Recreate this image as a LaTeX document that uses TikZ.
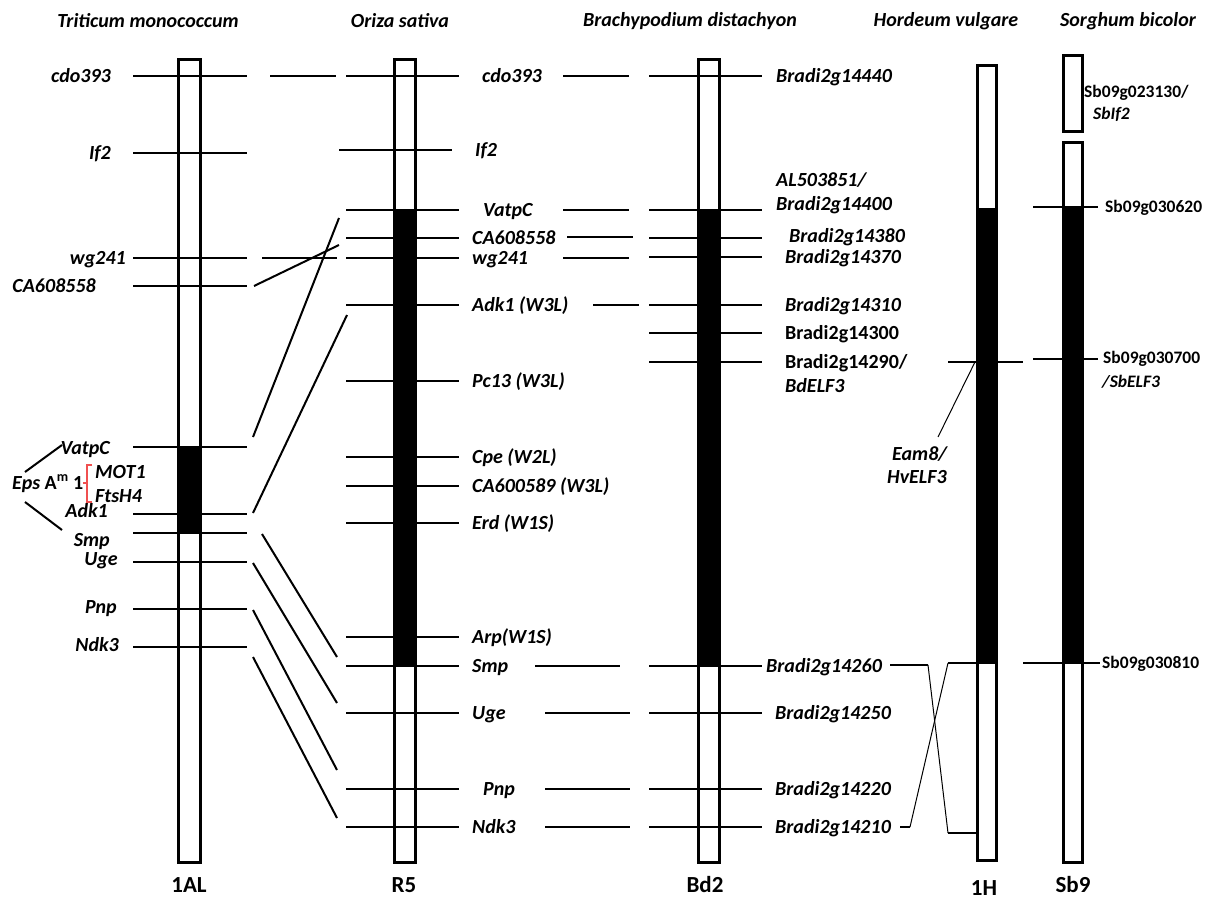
\documentclass[tikz,border=0pt]{standalone}
\usepackage{fontspec}
\setmainfont{Carlito}
\definecolor{bracketred}{RGB}{240,80,80}
\usetikzlibrary{positioning,calc}

\tikzset{
  mlabel/.style={font=\fontsize{20}{24}\selectfont\bfseries\itshape, inner sep=0pt, yshift=-3pt},
  mlabelup/.style={font=\fontsize{20}{24}\selectfont\bfseries, inner sep=0pt, yshift=-3pt},
  sblabel/.style={font=\fontsize{17.5}{22}\selectfont\bfseries, inner sep=0pt, yshift=-3pt},
  species/.style={font=\fontsize{20}{24}\selectfont\bfseries\itshape, inner sep=0pt},
  chrname/.style={font=\fontsize{23}{27}\selectfont\bfseries, inner sep=0pt},
  mtick/.style={line width=2.5pt},
  synteny/.style={line width=2pt},
  pointer/.style={line width=1pt},
  chrom/.style={draw, line width=3pt, fill=white},
}

\begin{document}
\begin{tikzpicture}[x=1pt, y=-1pt]
    \useasboundingbox (0,0) rectangle (1215,899);

    % Species
    \node[species] (tm) at (148,21) {Triticum monococcum};
    \node[species] (os) at (400,21) {Oriza sativa};
    \node[species] (bd) at (690,21) {Brachypodium distachyon};
    \node[species] (hv) at (946,21) {Hordeum vulgare};
    \node[species] (sb) at (1128,21) {Sorghum bicolor};

    % Chromosomes
    \draw[chrom] (178.5,60) rectangle (200,862);
    \fill (178.5,447) rectangle (200,534);
    \draw[chrom] (394.5,60) rectangle (415.5,862);
    \fill (394.5,210) rectangle (415.5,666);
    \draw[chrom] (698,60) rectangle (719,862);
    \fill (698,210) rectangle (719,666);
    \draw[chrom] (977,66) rectangle (996,860);
    \fill (977,208) rectangle (996,664);
    \draw[chrom] (1063,56) rectangle (1082,131);
    \draw[chrom] (1063,142) rectangle (1082,862);
    \fill (1063,207) rectangle (1082,664);

    \node[chrname] (c1al) at (189,885) {1AL};
    \node[chrname] (cr5) at (404,885) {R5};
    \node[chrname] (cbd2) at (705,885) {Bd2};
    \node[chrname] (c1h) at (984,888) {1H};
    \node[chrname] (csb9) at (1073,885) {Sb9};

    % 1AL markers
    \draw[mtick] (133,76) -- (247,76);
    \draw[mtick] (133,153) -- (247,153);
    \draw[mtick] (133,258) -- (247,258);
    \draw[mtick] (133,286) -- (247,286);
    \draw[mtick] (133,447) -- (247,447);
    \draw[mtick] (133,514) -- (247,514);
    \draw[mtick] (133,533) -- (247,533);
    \draw[mtick] (133,562) -- (247,562);
    \draw[mtick] (133,609) -- (247,609);
    \draw[mtick] (133,647) -- (247,647);
    \node[mlabel, anchor=mid east] (a-cdo) at (111,77) {cdo393};
    \node[mlabel, anchor=mid east] (a-if) at (111,154) {If2};
    \node[mlabel, anchor=mid east] (a-wg) at (126,259) {wg241};
    \node[mlabel, anchor=mid east] (a-ca) at (96,287) {CA608558};
    \node[mlabel, anchor=mid east] (a-vatpc) at (110,449) {VatpC};
    \node[mlabel, anchor=mid east] (a-adk) at (108,512) {Adk1};
    \node[mlabel, anchor=mid east] (a-smp) at (110,541) {Smp};
    \node[mlabel, anchor=mid east] (a-uge) at (118,560) {Uge};
    \node[mlabel, anchor=mid east] (a-pnp) at (117,608) {Pnp};
    \node[mlabel, anchor=mid east] (a-ndk) at (119,646) {Ndk3};

    % Eps locus
    \node[mlabel, anchor=mid west] (eps) at (12,484) {Eps \upshape A\textsuperscript{m} 1};
    \node[mlabel, anchor=mid west] (mot) at (95,473) {MOT1};
    \node[mlabel, anchor=mid west] (fts) at (95,497) {FtsH4};
    \draw[bracketred, line width=1.2pt] (92,465) -- (87,465) -- (87,502) -- (92,502);
    \draw[bracketred, line width=1.2pt] (83,483) -- (87,483);
    \coordinate (eps-up) at (25,472);
    \coordinate (eps-dn) at (25,502);
    \draw[synteny] (eps-up) -- (62,445);
    \draw[synteny] (eps-dn) -- (62,530);

    % R5 markers
    \draw[mtick] (270,76) -- (336,76);
    \draw[mtick] (262,258) -- (337,258);
    \draw[mtick] (346,76) -- (459,76);
    \draw[mtick] (339,150) -- (452,150);
    \draw[mtick] (346,210) -- (459,210);
    \draw[mtick] (346,238) -- (459,238);
    \draw[mtick] (346,258) -- (459,258);
    \draw[mtick] (346,305) -- (459,305);
    \draw[mtick] (346,381) -- (459,381);
    \draw[mtick] (346,457) -- (459,457);
    \draw[mtick] (346,486) -- (459,486);
    \draw[mtick] (346,523) -- (459,523);
    \draw[mtick] (346,637) -- (459,637);
    \draw[mtick] (346,666) -- (459,666);
    \draw[mtick] (346,713) -- (459,713);
    \draw[mtick] (346,789) -- (459,789);
    \draw[mtick] (346,827) -- (459,827);
    \node[mlabel, anchor=mid west] (r-cdo) at (482,77) {cdo393};
    \node[mlabel, anchor=mid west] (r-if) at (475,151) {If2};
    \node[mlabel, anchor=mid west] (r-vatpc) at (483,211) {VatpC};
    \node[mlabel, anchor=mid west] (r-ca) at (472,239) {CA608558};
    \node[mlabel, anchor=mid west] (r-wg) at (472,259) {wg241};
    \node[mlabel, anchor=mid west] (r-adk) at (472,306) {Adk1 (W3L)};
    \node[mlabel, anchor=mid west] (r-pc) at (472,382) {Pc13 (W3L)};
    \node[mlabel, anchor=mid west] (r-cpe) at (472,458) {Cpe (W2L)};
    \node[mlabel, anchor=mid west] (r-ca6) at (472,487) {CA600589 (W3L)};
    \node[mlabel, anchor=mid west] (r-erd) at (472,524) {Erd (W1S)};
    \node[mlabel, anchor=mid west] (r-arp) at (472,638) {Arp(W1S)};
    \node[mlabel, anchor=mid west] (r-smp) at (472,667) {Smp};
    \node[mlabel, anchor=mid west] (r-uge) at (472,714) {Uge};
    \node[mlabel, anchor=mid west] (r-pnp) at (483,790) {Pnp};
    \node[mlabel, anchor=mid west] (r-ndk) at (472,828) {Ndk3};

    % 1AL - R5 links
    \coordinate (a-ca-r) at (254,286);   \coordinate (r-ca-l) at (339,245);
    \coordinate (a-vatpc-r) at (253,437); \coordinate (r-vatpc-l) at (339,218);
    \coordinate (a-adk-r) at (253,513);  \coordinate (r-adk-l) at (347,315);
    \coordinate (a-smp-r) at (262,534);  \coordinate (r-smp-l) at (337,657);
    \coordinate (a-uge-r) at (253,563);  \coordinate (r-uge-l) at (337,703);
    \coordinate (a-pnp-r) at (253,610);  \coordinate (r-pnp-l) at (337,770);
    \coordinate (a-ndk-r) at (253,657);  \coordinate (r-ndk-l) at (337,818);
    \draw[synteny] (a-ca-r) -- (r-ca-l);
    \draw[synteny] (a-vatpc-r) -- (r-vatpc-l);
    \draw[synteny] (a-adk-r) -- (r-adk-l);
    \draw[synteny] (a-smp-r) -- (r-smp-l);
    \draw[synteny] (a-uge-r) -- (r-uge-l);
    \draw[synteny] (a-pnp-r) -- (r-pnp-l);
    \draw[synteny] (a-ndk-r) -- (r-ndk-l);

    % R5 - Bd2 links
    \draw[mtick] (563,76) -- (629,76);
    \draw[mtick] (563,210) -- (629,210);
    \draw[mtick] (567,237) -- (633,237);
    \draw[mtick] (563,258) -- (629,258);
    \draw[mtick] (593,305) -- (639,305);
    \draw[mtick] (535,666) -- (620,666);
    \draw[mtick] (545,713) -- (630,713);
    \draw[mtick] (545,789) -- (630,789);
    \draw[mtick] (545,827) -- (630,827);

    % Bd2 markers
    \draw[mtick] (649,76) -- (762,76);
    \draw[mtick] (649,210) -- (762,210);
    \draw[mtick] (649,238) -- (762,238);
    \draw[mtick] (649,257) -- (762,257);
    \draw[mtick] (649,305) -- (762,305);
    \draw[mtick] (649,333) -- (762,333);
    \draw[mtick] (649,362) -- (762,362);
    \draw[mtick] (649,666) -- (762,666);
    \draw[mtick] (649,713) -- (762,713);
    \draw[mtick] (649,789) -- (762,789);
    \draw[mtick] (649,827) -- (762,827);
    \node[mlabel, anchor=mid west] (b-440) at (776,77) {Bradi2g14440};
    \node[mlabel, anchor=mid west] (b-al) at (776,181) {AL503851/};
    \node[mlabel, anchor=mid west] (b-400) at (776,205) {Bradi2g14400};
    \node[mlabel, anchor=mid west] (b-380) at (789,237) {Bradi2g14380};
    \node[mlabel, anchor=mid west] (b-370) at (785,258) {Bradi2g14370};
    \node[mlabel, anchor=mid west] (b-310) at (785,306) {Bradi2g14310};
    \node[mlabelup, anchor=mid west] (b-300) at (785,334) {Bradi2g14300};
    \node[mlabelup, anchor=mid west] (b-290) at (785,363) {Bradi2g14290/};
    \node[mlabel, anchor=mid west] (b-elf) at (785,387) {BdELF3};
    \node[mlabel, anchor=mid west] (b-260) at (766,667) {Bradi2g14260};
    \node[mlabel, anchor=mid west] (b-250) at (775,714) {Bradi2g14250};
    \node[mlabel, anchor=mid west] (b-220) at (775,790) {Bradi2g14220};
    \node[mlabel, anchor=mid west] (b-210) at (775,828) {Bradi2g14210};

    % Bd2 - 1H links
    \coordinate (b-260-r) at (890,665); \coordinate (h-260-l) at (948,833);
    \coordinate (b-210-r) at (900,827); \coordinate (h-210-l) at (948,663);
    \draw[mtick] (b-260-r) -- ++(38,0) coordinate (b-260-k);
    \draw[pointer] (b-260-k) -- (h-260-l);
    \draw[mtick] (h-260-l) -- (976,833);
    \draw[mtick] (b-210-r) -- ++(10,0) coordinate (b-210-k);
    \draw[pointer] (b-210-k) -- (h-210-l);
    \draw[mtick] (h-210-l) -- (976,663);

    % 1H markers
    \draw[mtick] (948,362) -- (1023,362);
    \coordinate (h-elf) at (975,362);
    \node[mlabel, anchor=mid west] (h-eam) at (892,455) {Eam8/};
    \node[mlabel, anchor=mid west] (h-hv) at (887,478) {HvELF3};
    \draw[pointer] (h-elf) -- (938,437);

    % Sb9 markers
    \draw[mtick] (1033,207) -- (1098,207);
    \draw[mtick] (1033,359) -- (1098,359);
    \draw[mtick] (1023,663) -- (1100,663);
    \node[sblabel, anchor=mid west] (s-130) at (1084,92) {Sb09g023130/};
    \node[sblabel, anchor=mid west, font=\fontsize{17.5}{22}\selectfont\bfseries\itshape] (s-if) at (1093,114) {SbIf2};
    \node[sblabel, anchor=mid west] (s-620) at (1105,207) {Sb09g030620};
    \node[sblabel, anchor=mid west] (s-700) at (1103,358) {Sb09g030700};
    \node[sblabel, anchor=mid west, font=\fontsize{17.5}{22}\selectfont\bfseries\itshape] (s-elf) at (1102,382) {/SbELF3};
    \node[sblabel, anchor=mid west] (s-810) at (1102,663) {Sb09g030810};
\end{tikzpicture}
\end{document}
